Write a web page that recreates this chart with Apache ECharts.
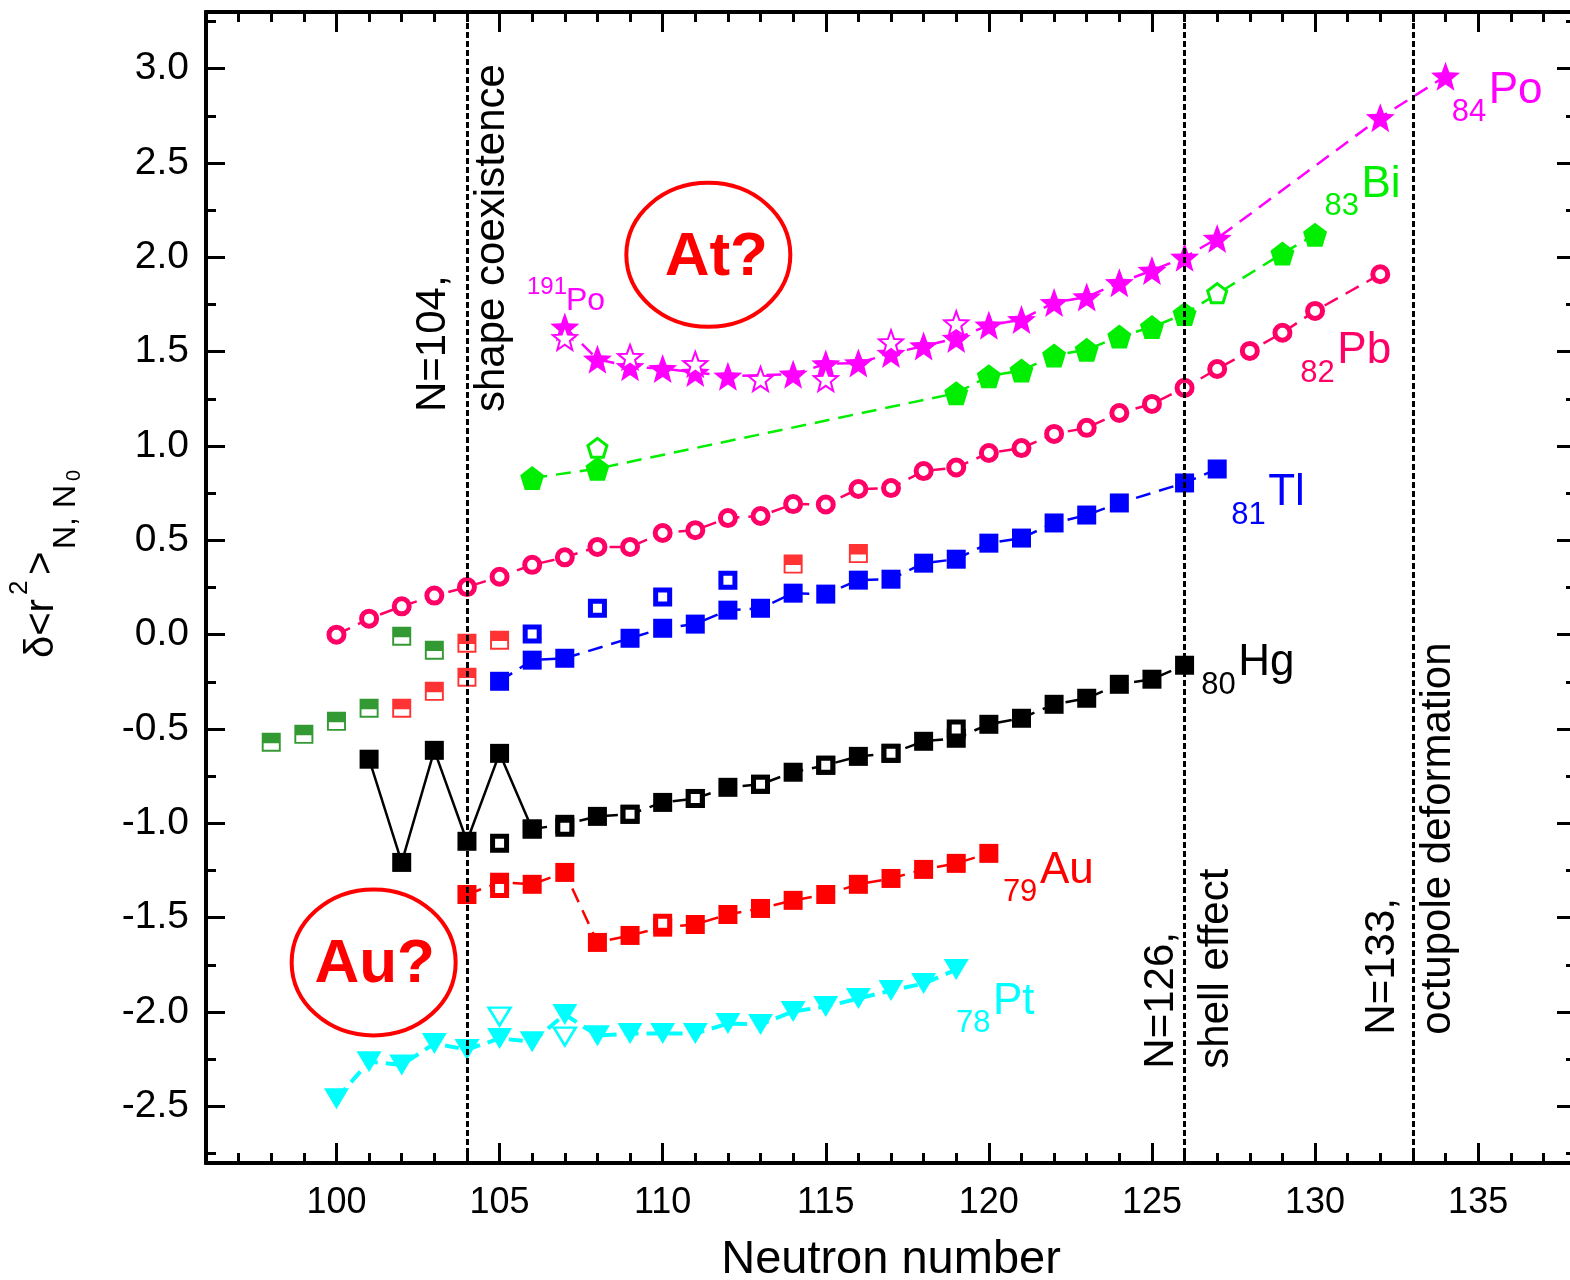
<!DOCTYPE html>
<html><head><meta charset="utf-8">
<script src="https://cdn.jsdelivr.net/npm/echarts@6/dist/echarts.min.js"></script>
<style>html,body{margin:0;padding:0;background:#fff}#c{width:1570px;height:1280px}</style>
</head><body><div id="c"></div>
<script>
// ---------- tick values ----------
const xMajor = [100,105,110,115,120,125,130,135];
const xMinor = [96,97,98,99,101,102,103,104,106,107,108,109,111,112,113,114,116,117,118,119,121,122,123,124,126,127,128,129,131,132,133,134,136,137,138];
const yMajor = [-2.5,-2.0,-1.5,-1.0,-0.5,0.0,0.5,1.0,1.5,2.0,2.5,3.0];
const yMinor = [-2.75,-2.25,-1.75,-1.25,-0.75,-0.25,0.25,0.75,1.25,1.75,2.25,2.75,3.25];

// ---------- data ----------
const poN = [107,108,109,110,111,112,114,115,116,117,118,119,120,121,122,123,124,125,126,127,132,134];
const poV = [1.63,1.46,1.42,1.41,1.39,1.37,1.38,1.435,1.44,1.49,1.53,1.57,1.64,1.67,1.76,1.79,1.865,1.93,2.00,2.10,2.74,2.96];
const poOpenN = [107,109,111,113,115,117,119];
const poOpenV = [1.573,1.472,1.435,1.355,1.355,1.55,1.65];

const biN = [106,108,119,120,121,122,123,124,125,126,129,130];
const biV = [0.83,0.88,1.28,1.37,1.40,1.48,1.51,1.58,1.63,1.70,2.02,2.12];
const biOpenN = [108,127];
const biOpenV = [0.99,1.81];

const pbN = [100,101,102,103,104,105,106,107,108,109,110,111,112,113,114,115,116,117,118,119,120,121,122,123,124,125,126,127,128,129,130,132];
const pbV = [0.0,0.085,0.15,0.207,0.252,0.307,0.37,0.41,0.465,0.465,0.539,0.554,0.618,0.629,0.692,0.69,0.772,0.777,0.867,0.886,0.963,0.989,1.064,1.096,1.175,1.223,1.308,1.408,1.504,1.60,1.716,1.91];

const tlN = [105,106,107,109,110,111,112,113,114,115,116,117,118,119,120,121,122,123,124,126,127];
const tlV = [-0.247,-0.135,-0.125,-0.019,0.034,0.056,0.13,0.14,0.22,0.215,0.289,0.294,0.379,0.40,0.485,0.512,0.592,0.634,0.698,0.804,0.878];
const tlOpenN = [106,108,110,112];
const tlOpenV = [0.003,0.14,0.199,0.289];

const hgN = [106,107,108,109,110,111,112,113,114,115,116,117,118,119,120,121,122,123,124,125,126];
const hgV = [-1.03,-1.005,-0.963,-0.952,-0.889,-0.868,-0.809,-0.793,-0.729,-0.692,-0.645,-0.629,-0.565,-0.549,-0.475,-0.443,-0.369,-0.337,-0.263,-0.236,-0.162];
const hgZigN = [101,102,103,104,105,106];
const hgZigV = [-0.66,-1.207,-0.613,-1.095,-0.629,-1.03];
const hgOpenN = [105,107,109,111,113,115,117,119];
const hgOpenV = [-1.106,-1.02,-0.952,-0.868,-0.793,-0.692,-0.629,-0.50];

const auN = [104,105,106,107,108,109,110,111,112,113,114,115,116,117,118,119,120];
const auV = [-1.377,-1.312,-1.323,-1.26,-1.631,-1.594,-1.55,-1.536,-1.483,-1.451,-1.408,-1.377,-1.323,-1.292,-1.244,-1.212,-1.159];
const auOpenN = [105,110];
const auOpenV = [-1.345,-1.53];

const ptN = [100,101,102,103,104,105,106,107,108,109,110,111,112,113,114,115,116,117,118,119];
const ptV = [-2.459,-2.263,-2.28,-2.167,-2.199,-2.14,-2.157,-2.013,-2.125,-2.114,-2.114,-2.114,-2.061,-2.066,-1.997,-1.971,-1.928,-1.886,-1.849,-1.775];
const ptOpenN = [105,107];
const ptOpenV = [-2.024,-2.13];

const halfGreenN = [98,99,100,101,102,103];
const halfGreenV = [-0.57,-0.528,-0.459,-0.39,-0.008,-0.082];
const halfRedN = [102,103,104,104,105,114,116];
const halfRedV = [-0.39,-0.30,-0.225,-0.045,-0.029,0.374,0.43];

const refLinesN = [104,126,133];

// ---------- helpers ----------
const pairs = (a,b)=>a.map((n,i)=>[n,b[i]]);
function polyPath(k, inner){
  let p=''; const cnt = inner ? 2*k : k;
  for(let i=0;i<cnt;i++){
    const r = inner ? (i%2 ? inner : 1) : 1;
    const a = -Math.PI/2 + i*2*Math.PI/cnt;
    p += (i?'L':'M') + (r*Math.cos(a)).toFixed(4) + ',' + (r*Math.sin(a)).toFixed(4);
  }
  return 'path://' + p + 'Z';
}
const STAR = polyPath(5, 0.42);
const PENT = polyPath(5, 0);
const HALFSQ = 'path://M0,0L20,0L20,20L0,20Z M2,11L2,18L18,18L18,11Z';
const FONT = '"Liberation Sans", Arial, sans-serif';
const DASH = [15,9];

function lineSeries(name, data, color, symbol, size, extra){
  return Object.assign({
    name, type:'line', data: data, symbol, symbolSize:size,
    lineStyle:{color, width:2.5, type:DASH}, itemStyle:{color},
    emphasis:{disabled:true}, animation:false, z:3
  }, extra||{});
}
function openSeries(name, data, color, symbol, size, bw, extra){
  return Object.assign({
    name, type:'scatter', data, symbol, symbolSize:size,
    itemStyle:{color:'#ffffff', borderColor:color, borderWidth:bw, opacity:1},
    emphasis:{disabled:true}, animation:false, z:4
  }, extra||{});
}

function axisBase(){
  return {type:'value', splitLine:{show:false}, axisLine:{show:true, onZero:false, lineStyle:{color:'#000', width:4}}};
}
function xAx(pos, major){
  const a = axisBase(); a.min=96; a.max=138; a.position=pos;
  a.axisTick = {show:true, inside:true, length: major?20:10, lineStyle:{color:'#000', width:3}, customValues: major?xMajor:xMinor};
  a.axisLabel = (major && pos==='bottom') ? {show:true, customValues:xMajor, fontSize:36, color:'#000', fontFamily:FONT, margin:22} : {show:false};
  if (major && pos==='bottom'){ a.name='Neutron number'; a.nameLocation='middle'; a.nameGap=74; a.nameTextStyle={fontSize:47, color:'#000', fontFamily:FONT}; }
  return a;
}
function yAx(pos, major){
  const a = axisBase(); a.min=-2.8; a.max=3.3; a.position=pos;
  a.axisTick = {show:true, inside:true, length: major?19:10, lineStyle:{color:'#000', width:3}, customValues: major?yMajor:yMinor};
  a.axisLabel = (major && pos==='left') ? {show:true, customValues:yMajor, fontSize:39, color:'#000', fontFamily:FONT, margin:17, formatter:v=>v.toFixed(1)} : {show:false};
  return a;
}

const chart = echarts.init(document.getElementById('c'), null, {renderer:'canvas'});
const option = {
  backgroundColor:'#ffffff',
  animation:false,
  grid:{left:206, top:12, width:1370, height:1151, containLabel:false, outerBoundsMode:'none'},
  xAxis:[xAx('bottom',true), xAx('bottom',false), xAx('top',true), xAx('top',false)],
  yAxis:[yAx('left',true), yAx('left',false), yAx('right',true), yAx('right',false)],
  series:[
    lineSeries('Pt', pairs(ptN,ptV), '#00ffff', 'triangle', [25,21], {symbolRotate:180, lineStyle:{color:'#00ffff', width:4, type:[14,8]}}),
    openSeries('Pt open', pairs(ptOpenN,ptOpenV), '#00ffff', 'triangle', [22,18], 2.5, {symbolRotate:180}),
    lineSeries('Au', pairs(auN,auV), '#ff0000', 'rect', 19),
    openSeries('Au open', pairs(auOpenN,auOpenV), '#ff0000', 'rect', 14, 5),
    lineSeries('Hg zig', pairs(hgZigN,hgZigV), '#000000', 'rect', 19, {lineStyle:{color:'#000', width:2.5, type:'solid'}}),
    lineSeries('Hg', pairs(hgN,hgV), '#000000', 'rect', 19),
    openSeries('Hg open', pairs(hgOpenN,hgOpenV), '#000000', 'rect', 14, 5),
    lineSeries('Tl', pairs(tlN,tlV), '#0000ff', 'rect', 19),
    openSeries('Tl open', pairs(tlOpenN,tlOpenV), '#0000ff', 'rect', 14, 5),
    {name:'half green', type:'scatter', data:pairs(halfGreenN,halfGreenV), symbol:HALFSQ, symbolSize:19, itemStyle:{color:'#008000'}, animation:false, z:4},
    {name:'half red', type:'scatter', data:pairs(halfRedN,halfRedV), symbol:HALFSQ, symbolSize:19, itemStyle:{color:'#ff0000'}, animation:false, z:4},
    lineSeries('Pb', pairs(pbN,pbV), '#ff0066', 'circle', 15, {itemStyle:{color:'#ffffff', borderColor:'#ff0066', borderWidth:5}, lineStyle:{color:'#ff0066', width:2.5, type:DASH}}),
    lineSeries('Bi', pairs(biN,biV), '#00ee00', PENT, 24),
    openSeries('Bi open', pairs(biOpenN,biOpenV), '#00ee00', PENT, 19, 3),
    lineSeries('Po', pairs(poN,poV), '#ff00ff', STAR, 29),
    openSeries('Po open', pairs(poOpenN,poOpenV), '#ff00ff', STAR, 24, 2),
    {name:'ref', type:'line', data:[], z:6, animation:false,
     markLine:{silent:true, symbol:'none', animation:false, label:{show:false},
       lineStyle:{color:'#000', width:3, type:[6,3]},
       data: refLinesN.map(n=>({xAxis:n}))}}
  ]
};
chart.setOption(option);

// ---------- annotations ----------
const px = (n,v)=>chart.convertToPixel({xAxisIndex:0, yAxisIndex:0}, [n,v]);
const elemLabels = [
  {sub:'84', el:'Po', n:134.19, v:2.767, color:'#ff00ff'},
  {sub:'83', el:'Bi', n:130.29, v:2.268, color:'#00ee00'},
  {sub:'82', el:'Pb', n:129.55, v:1.387, color:'#ff0066'},
  {sub:'81', el:'Tl', n:127.43, v:0.634, color:'#0000ff'},
  {sub:'80', el:'Hg', n:126.51, v:-0.268, color:'#000000'},
  {sub:'79', el:'Au', n:120.43, v:-1.366, color:'#ff0000'},
  {sub:'78', el:'Pt', n:118.99, v:-2.061, color:'#00ffff'}
];
const graphics = [];
elemLabels.forEach(l=>{
  const p = px(l.n, l.v);
  graphics.push({type:'text', x:p[0], y:p[1], z:20, style:{text:l.sub, font:'31px '+FONT, fill:l.color, align:'left', verticalAlign:'middle'}});
  graphics.push({type:'text', x:p[0]+37, y:p[1]-22, z:20, style:{text:l.el, font:'44px '+FONT, fill:l.color, align:'left', verticalAlign:'middle'}});
});
// 191Po
(function(){
  const p = px(105.84, 1.838);
  graphics.push({type:'text', x:p[0], y:p[1], z:20, style:{text:'191', font:'24px '+FONT, fill:'#ff00ff', align:'left', verticalAlign:'middle'}});
  graphics.push({type:'text', x:p[0]+39, y:p[1]+13, z:20, style:{text:'Po', font:'32px '+FONT, fill:'#ff00ff', align:'left', verticalAlign:'middle'}});
})();
// question ellipses
[{n:111.40, v:2.013, t:'At?', dx:8, dy:3, rx:82, ry:72},
 {n:101.14, v:-1.737, t:'Au?', dx:1, dy:2, rx:82, ry:73}].forEach(e=>{
  const p = px(e.n, e.v);
  graphics.push({type:'ellipse', z:20, shape:{cx:p[0], cy:p[1], rx:e.rx, ry:e.ry}, style:{fill:'none', stroke:'#ff0000', lineWidth:4}});
  graphics.push({type:'text', x:p[0]+e.dx, y:p[1]+e.dy, z:20, style:{text:e.t, font:'bold 62px '+FONT, fill:'#ff0000', align:'center', verticalAlign:'middle'}});
});
// vertical annotations
[{n:104, v:1.18, a:'N=104,', b:'shape coexistence', da:-34, db:25},
 {n:126, v:-2.30, a:'N=126,', b:'shell effect', da:-23, db:32},
 {n:133, v:-2.12, a:'N=133,', b:'octupole deformation', da:-30, db:26}].forEach(s=>{
  const p = px(s.n, s.v);
  graphics.push({type:'text', x:p[0]+s.da, y:p[1], rotation:Math.PI/2, z:20, style:{text:s.a, font:'42px '+FONT, fill:'#000', align:'left', verticalAlign:'middle'}});
  graphics.push({type:'text', x:p[0]+s.db, y:p[1], rotation:Math.PI/2, z:20, style:{text:s.b, font:'42px '+FONT, fill:'#000', align:'left', verticalAlign:'middle'}});
});
// y axis title  δ<r²>N, N0
graphics.push({type:'group', x:42, y:658, rotation:Math.PI/2, z:20, children:[
  {type:'text', x:0, y:0, style:{text:'δ<r', font:'40px '+FONT, fill:'#000', align:'left', verticalAlign:'middle'}},
  {type:'text', x:63, y:-22, style:{text:'2', font:'26px '+FONT, fill:'#000', align:'left', verticalAlign:'middle'}},
  {type:'text', x:83, y:0, style:{text:'>', font:'40px '+FONT, fill:'#000', align:'left', verticalAlign:'middle'}},
  {type:'text', x:109, y:24, style:{text:'N, N', font:'32px '+FONT, fill:'#000', align:'left', verticalAlign:'middle'}},
  {type:'text', x:177, y:32, style:{text:'0', font:'20px '+FONT, fill:'#000', align:'left', verticalAlign:'middle'}}
]});
chart.setOption({graphic: graphics});
</script>
</body></html>
